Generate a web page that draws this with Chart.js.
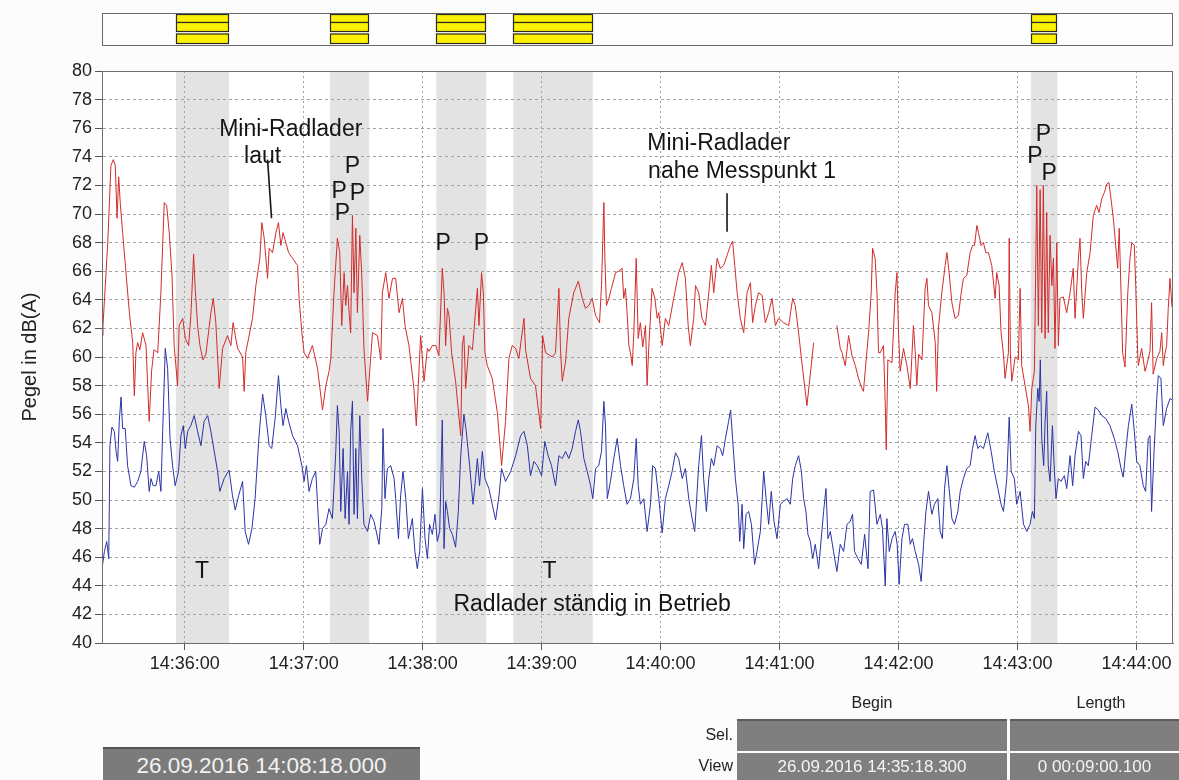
<!DOCTYPE html>
<html>
<head>
<meta charset="utf-8">
<script src="https://cdn.jsdelivr.net/npm/chart.js@4.4.0/dist/chart.umd.min.js"></script>
<style>
html,body{margin:0;padding:0;background:#fcfcfc;width:1179px;height:780px;overflow:hidden;}
#wrap{position:relative;width:1179px;height:780px;}
#c{position:absolute;left:0;top:0;}
.t{position:absolute;color:#222;font-family:"Liberation Sans",Arial,sans-serif;font-size:16px;line-height:20px;white-space:nowrap;}
.hd{text-align:center;}
.rl{text-align:right;}
.cell{position:absolute;background:#7f7f7f;color:#f4f4f4;font-family:"Liberation Sans",Arial,sans-serif;font-size:17px;text-align:center;white-space:nowrap;box-sizing:border-box;}
.date{position:absolute;background:#7b7b7b;color:#f2f2f2;font-family:"Liberation Sans",Arial,sans-serif;font-size:22.5px;text-align:center;white-space:nowrap;box-sizing:border-box;border-top:2px solid #555;}
</style>
</head>
<body>
<div id="wrap">
<canvas id="c" width="1179" height="780"></canvas>
<div class="t hd" style="left:822px;top:693px;width:100px;">Begin</div>
<div class="t hd" style="left:1046px;top:693px;width:110px;">Length</div>
<div class="t rl" style="left:670px;top:725px;width:63px;">Sel.</div>
<div class="t rl" style="left:670px;top:756px;width:63px;">View</div>
<div class="cell" style="left:737px;top:719px;width:270px;height:32px;border-top:2px solid #5c5c5c;"></div>
<div class="cell" style="left:1010px;top:719px;width:169px;height:32px;border-top:2px solid #5c5c5c;"></div>
<div class="cell" id="vb" style="left:737px;top:753px;width:270px;height:27px;line-height:27px;"></div>
<div class="cell" id="vl" style="left:1010px;top:753px;width:169px;height:27px;line-height:27px;"></div>
<div class="date" id="db" style="left:103px;top:747px;width:317px;height:33px;line-height:33px;"></div>
</div>
<script>
const FONT = '"Liberation Sans", Arial, Helvetica, sans-serif';
const recordStart = '26.09.2016 14:08:18.000';
const viewDate = '26.09.2016';
const viewStart = '14:35:18.300';
const viewLength = 540.1; // seconds
const viewLengthLabel = '0 00:09:00.100';
const tickLabels = ['14:36:00','14:37:00','14:38:00','14:39:00','14:40:00','14:41:00','14:42:00','14:43:00','14:44:00'];
const yMin = 40, yMax = 80, yStep = 2;
// grey selection bands (seconds from view start)
const bandStart = [37.3, 115.0, 168.6, 207.4, 468.4];
const bandEnd   = [64.1, 134.7, 193.8, 247.5, 481.8];
// red series [seconds, dB(A)]
const redPoints = [[0,61.5],[0.5,62.2],[2.9,68],[4.5,73.4],[5.7,73.8],[6.7,73.4],[7.6,69.7],[8.4,72.6],[9.2,70.8],[10.4,68.7],[12.1,65.9],[13.8,63.1],[15.5,61],[16.3,57.3],[17.1,60.3],[18,61],[19.1,60.5],[20.5,61.7],[22.2,60.8],[23.8,55.5],[25,59],[26.2,60.5],[28.1,60.3],[29.7,64.5],[31.4,70.8],[32.6,70.6],[33.9,68.7],[35.3,65.7],[36.4,60.8],[38.1,58],[38.9,62.2],[40.7,62.7],[42,61.3],[43.7,60.8],[44.8,62.9],[46.2,67.2],[47,64.8],[48.2,62.2],[49.4,60.8],[50.9,59.8],[52.4,60.2],[54.9,63.1],[56.1,64.1],[57.4,62.4],[59.1,57.8],[60.8,60.6],[63.3,61.5],[65,60.8],[66.1,62.4],[67.2,61.5],[68.4,60.6],[70.9,60],[71.7,57.6],[72.5,60.3],[75.9,62.7],[77.6,65],[79.6,66.9],[80.6,69.4],[81.8,68.3],[83.5,65.5],[84.3,67.6],[86,67.3],[87.7,68.7],[89,69.4],[90.2,67.8],[91.3,68.7],[92.7,68],[94.1,67.3],[96.1,66.9],[98.6,66.4],[99.4,64.1],[100.8,61.7],[101.9,60.3],[103.6,59.9],[106.1,60.8],[108.7,59.2],[111.2,56.3],[112.9,58],[114.5,59],[115.4,59.9],[117,64.5],[118.7,68.3],[119.9,67.3],[120.9,62.2],[122.1,65.9],[122.9,63.6],[123.8,65],[124.6,63.1],[125.4,61.7],[126.3,69.9],[127.1,64.5],[128,69],[128.8,63.1],[130,68.5],[131,65.7],[132.1,60.6],[133.9,56.9],[136.4,61.7],[138.9,61.5],[140.6,59.8],[141.4,64.5],[143.1,65.9],[144.7,64.1],[146.5,65.5],[148.1,65.5],[149.8,63.1],[151.5,64.1],[152.8,62.2],[154.8,60.8],[157.3,57.8],[158.5,55.2],[160.7,61.5],[162.4,58.3],[164.1,60.6],[164.9,60.4],[166.6,60.8],[168.3,60.8],[169.9,60.1],[171.6,66.2],[172.5,64.5],[173.3,60.8],[174.2,63.4],[175,62.9],[176.3,60.3],[178.3,58.3],[180.9,54.5],[181.7,60.8],[182.5,61.5],[183.4,57.8],[185,60.8],[186.8,60.5],[189.3,64.8],[190.1,62.2],[191.4,65.9],[192.3,64.5],[193.1,60.3],[194.3,59.4],[196.8,58.5],[199.4,56.1],[201.5,52.4],[203.5,55.5],[205.2,59.9],[206.9,60.8],[208.6,60.6],[210.2,59.9],[212.8,62.7],[213.6,60.5],[216.1,58.5],[218.6,58],[221.2,55],[222.2,61.5],[223.7,60.3],[227.1,60],[228.7,60.3],[230.4,64.8],[231.2,60.6],[232.1,58.3],[233.8,59.7],[235.4,62.7],[237.9,64.5],[240.2,65.3],[242.2,64.1],[243.8,63.4],[245.5,63.6],[247.2,64.1],[248.9,62.9],[250.9,62.4],[251.9,65],[253.1,70.8],[253.6,66.9],[254.4,63.6],[255.6,64.1],[256.9,64.8],[259,65.9],[260.6,66],[262.3,66.2],[263.1,64.1],[264,64.8],[264.8,63.1],[265.7,60.8],[266.5,60.3],[267.4,59.4],[268.2,61.7],[269.4,66.9],[270.4,61.3],[271.5,62.4],[272.7,60.7],[274.1,62.2],[274.9,58],[275.7,60.6],[277.4,64.8],[278.8,64.1],[280,62.7],[280.8,63.1],[282.5,60.8],[284.1,62.7],[285.8,62.2],[288.3,64.1],[290.8,65.9],[292.6,66.6],[294.2,65.5],[295.6,62.2],[296.7,60.8],[298.4,62.7],[299.3,65],[300.9,64.5],[302.6,62.7],[304.3,62.2],[306,64.5],[307.3,66.4],[308.5,64.5],[310.2,66.9],[311.8,66.2],[313.5,66.4],[315.2,67.1],[316.9,67.8],[318,68.1],[319.1,66.4],[320.3,64.5],[321.9,62.7],[323.6,61.7],[325.3,64.5],[327,65.2],[328.1,62.4],[329.5,63.6],[331.1,64.5],[332.9,64.3],[334.5,62.4],[336.2,63.1],[337.9,64.1],[339.6,62.2],[341.2,62.7],[343.7,62.4],[346.3,62.2],[348.3,64.1],[349.6,63.6],[351.3,61.7],[352.7,59.9],[355.5,56.6],[358.9,61],[364.8,null],[370.6,62.2],[372.3,60.6],[373.2,60.3],[374.8,59.4],[376.5,61.5],[378.2,60.1],[379.9,59.4],[381.5,58.5],[383.2,57.8],[384,57.6],[385.8,60.5],[386.6,61.7],[387.9,64.5],[388.6,67.6],[389.9,66.9],[390.8,64.5],[391.6,60.3],[392.5,60.3],[394.1,60.8],[395,56.6],[395.5,53.5],[396.3,59.8],[398.4,59.6],[400,64.5],[400.9,65.9],[401.7,61.7],[402.5,59],[404.2,60.6],[405.9,59.4],[407.6,57.8],[409.2,62.2],[410.1,60.4],[410.9,58],[411.8,60.2],[413.5,59.8],[415.1,64.8],[416,65.5],[416.8,63.6],[418.5,63.1],[420.2,61],[420.9,57.6],[421.8,62],[423.5,64.5],[425.2,66.4],[426.1,67.3],[427.2,65.9],[428.6,63.8],[430.2,62.7],[431.9,62.9],[433.3,64.5],[434.4,65.5],[436.1,65.7],[437.8,67.3],[439,67.8],[440,67.8],[441.2,69.2],[442,68.7],[443.3,67.8],[444.5,68],[445.7,67.3],[447,67.3],[448.7,66.4],[450.4,64.1],[451.2,65.9],[452.4,65],[453.4,61.7],[454.6,60.2],[455.4,58.5],[457.1,60.3],[457.5,68.3],[458.1,60.2],[458.8,58.3],[460.5,60],[462.1,59.8],[463,64.8],[463.8,59.4],[465.5,58],[467.2,56.6],[468,54.8],[468.9,57.8],[470.2,59],[471.4,72],[472.2,62.2],[473.1,71.7],[473.9,61.7],[474.7,72],[475.6,61.3],[476.4,70.1],[477.2,61.7],[478.1,68.5],[479,65],[479.8,66.9],[480.6,60.6],[481.5,68],[482.3,60.8],[483.1,64.1],[484.8,64.2],[486.5,63.1],[488.2,64.5],[489.8,66.2],[490.7,62.7],[492.4,66.9],[493.2,68.3],[494.1,64.5],[494.9,62.7],[496.6,65.9],[498.3,67.3],[499.9,69.9],[501.6,70.6],[502.8,70.1],[504.2,71.1],[505.5,71.5],[506.7,72.1],[507.8,72.2],[508.8,71.1],[510,69.7],[511.2,67.8],[512.2,66.2],[513,69],[513.9,64.5],[514.7,60.3],[515.9,59.3],[517.3,64.5],[518.4,66.9],[519.3,68],[520.6,67.8],[521.3,65],[522.3,60.2],[522.6,59.4],[524.3,60.6],[526,59],[526.8,59.4],[528.5,60.4],[529.3,63.8],[530.1,58.8],[531.9,59.9],[533.5,60.4],[534.4,61.7],[535.2,59.4],[536,60.2],[536.9,60.8],[537.7,63.4],[538.6,65.5],[539.6,63.5]];
// blue series [seconds, dB(A)]
const bluePoints = [[0,45.2],[1.2,46.4],[2.4,47.1],[3.4,45.9],[4,53.8],[5,55.1],[6.2,54.8],[7.1,53.4],[7.9,52.7],[8.7,55.5],[9.6,57.2],[10.4,55],[11.7,55],[12.9,52.4],[14.6,51],[16.3,50.9],[18,51.3],[19.6,52],[21.3,54.1],[22.5,53.1],[23.8,50.6],[24.7,51.5],[25.8,51],[27.2,51],[28.6,52],[29.7,50.6],[30.6,54.8],[31.9,60.6],[33.1,59.2],[34.3,54.3],[35.6,52.4],[36.9,51],[38.6,52],[39.8,54.5],[41,55.2],[42,53.6],[43.2,54.8],[44.8,55.2],[46.5,55.9],[48.2,54.8],[49.9,53.8],[51.5,55.5],[53.3,55.9],[54.9,54.8],[56.6,53.4],[58.3,52],[59.4,50.6],[61.6,51.5],[64.1,52.1],[65.8,50.3],[67.2,49.3],[68.9,50.3],[70.9,51.3],[72.2,47.8],[73.9,46.9],[75.6,48],[77.2,50.1],[79.2,54.5],[81,57.4],[82.6,55.9],[84.3,53.8],[85.6,53.6],[87.3,55.7],[89,58.7],[90.2,56.6],[91.3,55.2],[92.7,56.4],[94.1,55.5],[96.1,54.5],[98.6,53.8],[100.8,52.4],[101.9,51.3],[103.1,52.4],[104.4,50.6],[106.1,51.5],[107.8,52],[108.7,49.7],[109.8,46.9],[111.2,48],[112.9,48.3],[114.5,49.4],[116.2,48.7],[117.9,53.4],[118.7,56.6],[119.6,54.8],[120.4,49.2],[121.6,53.6],[122.6,48.7],[123.8,52],[124.6,48.3],[125.4,54.8],[126.3,56.9],[127.1,49],[128,53.6],[128.8,48.7],[130,55.9],[131,51.5],[132.1,48.3],[133.9,47.8],[135.5,49],[137.2,48.5],[139.7,46.9],[141.1,49.4],[141.7,55],[142.7,50.1],[143.9,52.2],[145.6,52.4],[147.3,51.5],[148.1,50.1],[149.5,47.3],[150.6,50.3],[151.8,52],[153.2,50.1],[154.5,47.3],[156.5,48.7],[157.8,46.4],[159,45.2],[160.2,46.4],[161.6,50.8],[162.9,47.3],[164.1,45.9],[165.2,48.3],[166.6,47.6],[167.9,49],[169.1,47.1],[170.3,47.8],[171.6,55.6],[172.5,46.6],[173.3,49.9],[174.2,49.2],[175.3,48],[176.7,47.6],[178.3,46.7],[179.7,49.2],[180.9,53.1],[182.5,56],[183.7,54.8],[185.4,52.4],[187.1,49.7],[188.4,51.5],[189.3,52.9],[190.4,51],[191.8,53.4],[193.1,51.5],[195.1,50.8],[196.8,49.7],[198.5,48.6],[200.2,50.3],[201.5,52.2],[203.5,51.3],[206.1,52],[208.6,53.1],[211.1,54.5],[212.8,54.8],[214.5,53.8],[216.1,51.7],[217.8,52.7],[219.5,52.4],[221.7,51.7],[223.3,54.1],[225,53.1],[226.7,52.4],[228.7,51],[230.4,53.1],[232.1,52.9],[233.8,53.4],[235.4,52.9],[237.1,53.6],[238.8,54.8],[240.2,55.6],[241.3,54.8],[243,52.9],[244.7,52],[246.4,51],[247.5,50.1],[248.9,52.2],[250.5,52.4],[251.9,53.4],[253.1,56.9],[253.9,55.2],[254.8,50.1],[256.4,51.3],[258.1,52.9],[259.8,54.3],[261.5,52.4],[263.1,51],[264.8,49.7],[266.5,50.1],[268.2,51.5],[269.4,54.3],[270.4,51],[271.5,49.7],[273.2,50.1],[274.9,47.8],[276.6,49.7],[277.7,52.4],[279.1,52.2],[280.8,50.1],[282.5,47.7],[284.1,50.1],[285.8,51],[287.5,52],[289.2,53.3],[290.8,52.9],[292.6,51.5],[294.2,52.2],[295.9,50.1],[297.6,48.7],[298.9,47.8],[300.9,52.4],[302.3,54.5],[303.4,51.5],[304.8,49.2],[306,51.5],[307.3,52.9],[308.5,52.4],[310.2,53.8],[311.8,53.6],[313,53.1],[314.4,54.3],[316,55.5],[317,56.3],[318,54.3],[319.4,51.5],[320.8,49.7],[321.6,47.1],[322.8,49.7],[323.6,46.6],[324.8,49],[326.1,49.2],[327.5,48.3],[329.1,45.5],[330.3,46.4],[332,47.8],[333.7,52],[334.9,50.1],[336.2,48.3],[337.5,50.6],[338.9,48.5],[340.4,47.3],[342.1,49.7],[343.7,49.9],[345.5,50.1],[347.1,49.7],[348.3,51.5],[349.6,52.4],[351.3,53.1],[352.7,52],[353.8,50.1],[355,49.2],[356,47.6],[357.2,47.1],[358.4,45.9],[359.7,46.9],[361.4,45.2],[362.7,47.3],[363.9,49.2],[365.1,50.8],[366.1,47.3],[367.3,47.8],[368.9,46.4],[370.6,45],[372.3,46.9],[374,46.4],[375.7,48.3],[377.3,48.5],[378.5,49],[379.5,46.4],[381.2,45.9],[382.9,45.5],[384.6,47.6],[386.3,45.2],[387.4,50.6],[389.1,50.7],[390.8,48.3],[392.5,49],[393.6,48],[395,44],[395.8,48.7],[397,46.4],[398.4,47.3],[400,47.8],[401,46.9],[402,44.1],[403.4,47.3],[404.7,48.3],[406.4,48.3],[407.6,46.9],[408.7,47.3],[410.1,46.4],[411.8,45.5],[413.1,44.3],[414.3,46.9],[415.5,49.2],[416.8,50.6],[418.5,49],[419.8,49.7],[421.5,50.1],[422.7,47.8],[423.8,47.3],[424.9,50.8],[426.1,52.4],[427.2,50.8],[428.6,48.7],[429.9,48.3],[431.6,49.2],[432.8,50.6],[434.4,51.5],[436.1,52.2],[437.8,52.4],[439,53.6],[440.3,54.5],[441.7,53.6],[442.8,53.8],[444.5,53.6],[446.7,54.7],[448.4,53.4],[450,52],[451.8,50.8],[453.4,49.7],[454.6,49.2],[456.3,51.5],[457.5,55.8],[458.5,52],[460.1,51.5],[461.3,49.7],[463,50.6],[464.7,48.3],[466.4,47.8],[468,48.3],[469.2,49.2],[470.2,48.7],[470.9,55.2],[471.9,57.8],[472.6,56.9],[473.2,59.8],[473.9,54.3],[474.9,52.4],[475.6,55.5],[476.4,57.6],[477.2,52.4],[478.1,51.3],[479.3,55.2],[480.3,52],[481.1,50.1],[482.3,51.5],[483.6,51.3],[485.3,51.7],[486.5,50.8],[488.2,53.1],[489.5,51],[490.7,53.1],[492.4,54.8],[493.7,54.5],[494.9,51.5],[496.1,52.7],[497.4,52.4],[499.1,54.5],[500.8,56.5],[502.4,56.3],[504.2,55.9],[506.2,55.7],[508.3,55.2],[510.5,54.3],[512.2,53.4],[513.9,52.2],[515,51.6],[516.4,53.6],[517.6,55.2],[519.3,56.7],[520.6,54.8],[521.8,52.7],[523.4,52.4],[525.1,51],[526.3,50.6],[527.6,54.3],[528.5,54.5],[529.3,49.2],[530.6,53.6],[531.9,57.1],[532.7,58.7],[534,58.5],[535.2,55.2],[536.9,56.4],[538.6,57.1],[539.6,57]];
// text notes anchored at [seconds, dB(A)]
const notes = [
  ['Mini-Radlader', 95.2, 75.87], ['laut', 81.0, 74.0],
  ['P', 126.3, 73.29], ['P', 119.6, 71.56], ['P', 128.8, 71.45], ['P', 121.3, 70.05],
  ['P', 172.1, 67.95], ['P', 191.4, 67.95],
  ['Mini-Radlader', 311.1, 74.94], ['nahe Messpunkt 1', 322.8, 72.96],
  ['P', 474.7, 75.52], ['P', 470.5, 74.01], ['P', 477.6, 72.85],
  ['T', 50.4, 44.99], ['T', 225.7, 44.99],
  ['Radlader ständig in Betrieb', 247.2, 42.66]
];
// pointer strokes [t1, dB1, t2, dB2]
const pointers = [[83.5, 73.8, 85.5, 69.7], [315.2, 71.45, 315.2, 68.76]];

function secs(s){ const p = s.split(':'); return (+p[0])*3600 + (+p[1])*60 + (+p[2]); }
const t0 = secs(viewStart);
const tickPos = tickLabels.map(l => secs(l) - t0);

document.getElementById('db').textContent = recordStart;
document.getElementById('vb').textContent = viewDate + ' ' + viewStart;
document.getElementById('vl').textContent = viewLengthLabel;

const bandPlugin = {
  id: 'bands',
  beforeDraw(chart) {
    const {ctx, chartArea: a, scales: {x}} = chart;
    ctx.save();
    ctx.fillStyle = '#ffffff';
    ctx.fillRect(a.left, a.top, a.right - a.left, a.bottom - a.top);
    ctx.fillStyle = '#e3e3e3';
    for (let i = 0; i < bandStart.length; i++) {
      const x1 = x.getPixelForValue(bandStart[i]), x2 = x.getPixelForValue(bandEnd[i]);
      ctx.fillRect(x1, a.top, x2 - x1, a.bottom - a.top);
    }
    ctx.restore();
  }
};

const overlayPlugin = {
  id: 'overlay',
  afterDraw(chart) {
    const {ctx, chartArea: a, scales: {x, y}} = chart;
    ctx.save();
    // frame
    ctx.strokeStyle = '#6e6e6e'; ctx.lineWidth = 1;
    ctx.strokeRect(Math.round(a.left) + 0.5, Math.round(a.top) + 0.5, Math.round(a.right - a.left) - 1, Math.round(a.bottom - a.top));
    // notes
    ctx.fillStyle = '#151515';
    ctx.font = '23px ' + FONT;
    ctx.textAlign = 'center'; ctx.textBaseline = 'middle';
    notes.forEach(n => ctx.fillText(n[0], x.getPixelForValue(n[1]), y.getPixelForValue(n[2])));
    ctx.strokeStyle = '#151515'; ctx.lineWidth = 1.6;
    pointers.forEach(p => {
      ctx.beginPath();
      ctx.moveTo(x.getPixelForValue(p[0]), y.getPixelForValue(p[1]));
      ctx.lineTo(x.getPixelForValue(p[2]), y.getPixelForValue(p[3]));
      ctx.stroke();
    });
    // top overview strip
    const sTop = 13, sH = 32;
    ctx.fillStyle = '#fdfdfd';
    ctx.fillRect(a.left, sTop, a.right - a.left, sH);
    ctx.strokeStyle = '#6a6a6a'; ctx.lineWidth = 1;
    ctx.strokeRect(Math.round(a.left) + 0.5, sTop + 0.5, Math.round(a.right - a.left) - 1, sH);
    const rows = [[14, 8], [22, 9], [33.5, 9.5]];
    for (let i = 0; i < bandStart.length; i++) {
      const x1 = Math.round(x.getPixelForValue(bandStart[i])), x2 = Math.round(x.getPixelForValue(bandEnd[i]));
      rows.forEach(r => {
        ctx.fillStyle = '#fcf200';
        ctx.fillRect(x1, r[0], x2 - x1, r[1]);
        ctx.strokeStyle = '#2a2a2a'; ctx.lineWidth = 1.2;
        ctx.strokeRect(x1 + 0.5, r[0] + 0.5, x2 - x1 - 1, r[1]);
      });
    }
    ctx.restore();
  }
};

new Chart(document.getElementById('c'), {
  type: 'line',
  data: {
    datasets: [
      { label: 'Messpunkt 1', data: redPoints.map(p => ({x: p[0], y: p[1]})), borderColor: '#d42b2b', borderWidth: 1, pointRadius: 0, tension: 0, spanGaps: false },
      { label: 'Messpunkt 2', data: bluePoints.map(p => ({x: p[0], y: p[1]})), borderColor: '#2b33a6', borderWidth: 1, pointRadius: 0, tension: 0, spanGaps: false }
    ]
  },
  options: {
    responsive: false, animation: false, devicePixelRatio: 1,
    layout: { padding: { top: 71, right: 6, bottom: 0, left: 0 } },
    plugins: { legend: { display: false }, tooltip: { enabled: false } },
    scales: {
      x: {
        type: 'linear', min: 0, max: viewLength,
        afterBuildTicks: s => { s.ticks = tickPos.map(v => ({ value: v })); },
        afterFit: s => { s.height = 137; },
        ticks: { autoSkip: false, maxRotation: 0, color: '#222', padding: 3, font: { size: 18, family: FONT }, callback: (v, i) => tickLabels[i] },
        grid: { color: '#a2a2a2', lineWidth: 1, tickLength: 7, tickColor: '#555', tickBorderDash: [] },
        border: { color: '#6e6e6e', dash: [2, 3] }
      },
      y: {
        min: yMin, max: yMax,
        afterFit: s => { s.width = 102; },
        ticks: { stepSize: yStep, autoSkip: false, color: '#222', padding: 3, font: { size: 18, family: FONT } },
        grid: { color: '#a2a2a2', lineWidth: 1, tickLength: 7, tickColor: '#555', tickBorderDash: [] },
        border: { color: '#6e6e6e', dash: [3, 3] },
        title: { display: true, text: 'Pegel in dB(A)', color: '#222', font: { size: 20, family: FONT }, padding: { top: 18, bottom: 0 } }
      }
    }
  },
  plugins: [bandPlugin, overlayPlugin]
});
</script>
</body>
</html>
